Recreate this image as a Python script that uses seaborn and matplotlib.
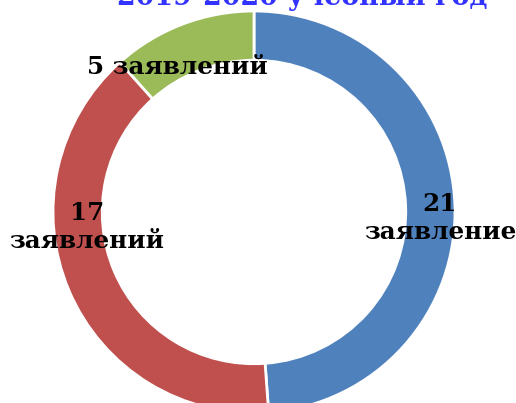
import matplotlib
matplotlib.use("Agg")
import matplotlib.pyplot as plt
import seaborn as sns

# data
categories = ["21\nзаявление", "17\nзаявлений", "5 заявлений"]
values = [21, 17, 5]
colors = ["#4F81BD", "#C0504D", "#9BBB59"]
title = "2019-2020 учебный год"

sns.set_theme(style="white")
plt.rcParams["font.family"] = ["DejaVu Serif", "DejaVu Sans"]

fig = plt.figure(figsize=(5.16, 4.03), dpi=100)
# donut centre about (254, 212) px, outer radius about 201 px
ax = fig.add_axes([53 / 516, -10 / 403, 402 / 516, 402 / 403])
ax.pie(values, colors=colors, startangle=90, counterclock=False, radius=1.0,
       wedgeprops=dict(width=0.245, edgecolor="white", linewidth=2))
ax.set_xlim(-1, 1)
ax.set_ylim(-1, 1)
ax.set_aspect("equal")
ax.axis("off")

# labels, positioned roughly like the original
lab_pos = [(0.925, -0.03), (-0.83, -0.075), (-0.38, 0.72)]
for text, (x, y) in zip(categories, lab_pos):
    ax.text(x, y, text, ha="center", va="center", fontsize=17.7,
            fontweight="bold", color="black", linespacing=1.25)

fig.text(302 / 516, 1 - 5 / 403, title, ha="center", va="baseline",
         fontsize=19.4, fontweight="bold", color="#3333FF")

fig.savefig("out.png", dpi=100)
